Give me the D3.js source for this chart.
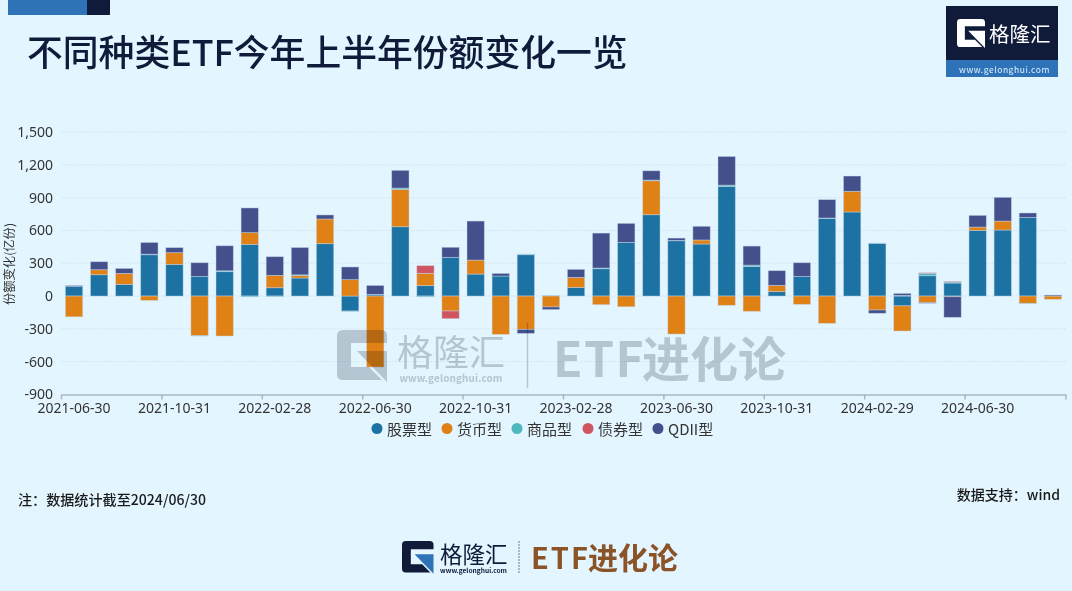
<!DOCTYPE html>
<html>
<head>
<meta charset="utf-8">
<script src="https://cdn.jsdelivr.net/npm/d3@7"></script>
<style>
html, body { margin: 0; padding: 0; background: #e3f5ff; }
svg { display: block; }
text { font-family: "Noto Sans CJK SC", "Noto Sans", sans-serif; }
</style>
</head>
<body>
<div id="chartContainer"></div>
<script>
const months = [
    "2021-06-30", "2021-07-31", "2021-08-31", "2021-09-30", "2021-10-31", "2021-11-30", "2021-12-31", "2022-01-31",
    "2022-02-28", "2022-03-31", "2022-04-30", "2022-05-31", "2022-06-30", "2022-07-31", "2022-08-31", "2022-09-30",
    "2022-10-31", "2022-11-30", "2022-12-31", "2023-01-31", "2023-02-28", "2023-03-31", "2023-04-30", "2023-05-31",
    "2023-06-30", "2023-07-31", "2023-08-31", "2023-09-30", "2023-10-31", "2023-11-30", "2023-12-31", "2024-01-31",
    "2024-02-29", "2024-03-31", "2024-04-30", "2024-05-31", "2024-06-30", "2024-07-31", "2024-08-31", "2024-09-30"
];
const stockValues = [88, 195, 107, 378, 290, 180, 223, 473, 76, 165, 479, -137, 12, 634, 95, 354, 201, 183, 378, 3,
    79, 250, 491, 744, 506, 476, 1003, 271, 40, 180, 711, 769, 482, -90, 186, 119, 601, 604, 720, 0];
const moneyValues = [-190, 46, 100, -40, 107, -363, -366, 107, 113, 24, 226, 150, -650, 342, 113, -137, 128, -351, -305, -100,
    92, -79, -98, 311, -348, 37, -85, -140, 58, -76, -250, 189, -128, -230, -61, -6, 30, 82, -67, -30];
const commodityValues = [0, 0, 0, 5, 0, -3, 8, -8, -6, 5, 0, -4, 3, 12, -8, 0, 0, 0, 6, 0,
    0, 6, 0, 6, 3, 0, 12, 12, 0, 0, 3, 0, 2, 6, 21, 9, 0, 0, -3, 0];
const bondValues = [0, 0, 0, 0, 0, 0, 0, 0, 0, 0, 0, 0, 0, 0, 70, -70, 0, 0, 0, 0,
    0, 0, 0, 0, 0, 0, 0, 0, 0, 0, 0, 0, 0, 0, 6, 6, 0, 0, 0, 0];
const qdiiValues = [8, 73, 46, 107, 46, 125, 229, 226, 171, 250, 37, 116, 82, 162, 0, 92, 357, 24, -37, -24,
    73, 320, 174, 85, 21, 125, 262, 174, 134, 125, 168, 140, -30, 18, -5, -189, 107, 217, 40, 9];

const seriesNames = ["股票型", "货币型", "商品型", "债券型", "QDII型"];
const seriesValues = [stockValues, moneyValues, commodityValues, bondValues, qdiiValues];
const seriesColors = ["#1c72a2", "#e08115", "#4fb7bd", "#cf5561", "#43508b"];
const yTicks = [-900, -600, -300, 0, 300, 600, 900, 1200, 1500];
const legendX = [377, 447, 517, 588, 658];

const marginLeft = 62;
const marginRight = 6;
const plotTop = 132.1;
const plotBottom = 394.4;
const chartWidth = 1072;
const chartHeight = 591;

var svg = d3.select("#chartContainer").append("svg").attr("width", chartWidth).attr("height", chartHeight);
svg.append("rect").attr("width", chartWidth).attr("height", chartHeight).attr("fill", "#e3f5ff");

// Logo mark: G outline plus the triangle, drawn in a 50x52 box
function drawLogo(parent, x, y, scale, color, arrowColor) {
    var g = parent.append("g").attr("transform", "translate(" + x + "," + y + ") scale(" + scale + ")");
    g.append("path").attr("fill", color)
        .attr("d", "M6,0 H44 Q50,0 50,6 V13 H14 V37 H32 L45,50 H6 Q0,50 0,44 V6 Q0,0 6,0 Z");
    g.append("path").attr("fill", arrowColor).attr("d", "M20,21 H50 V52 Z");
}

function addText(parent, x, y, content, size, color, weight, anchor) {
    return parent.append("text")
        .attr("x", x).attr("y", y)
        .attr("font-size", size)
        .attr("fill", color)
        .attr("font-weight", weight || 400)
        .attr("text-anchor", anchor || "start")
        .attr("dominant-baseline", "central")
        .text(content);
}

// Header
svg.append("rect").attr("x", 8).attr("y", 0).attr("width", 79).attr("height", 15).attr("fill", "#2e72b8");
svg.append("rect").attr("x", 87).attr("y", 0).attr("width", 23).attr("height", 15).attr("fill", "#101b3a");
addText(svg, 27, 50, "不同种类ETF今年上半年份额变化一览", 35.8, "#101b3a", 500);

svg.append("rect").attr("x", 946).attr("y", 6).attr("width", 112).attr("height", 54).attr("fill", "#101b3a");
svg.append("rect").attr("x", 946).attr("y", 60).attr("width", 112).attr("height", 17).attr("fill", "#2e72b8");
drawLogo(svg, 957, 19, 0.56, "#ffffff", "#ffffff");
addText(svg, 989, 33, "格隆汇", 20.5, "#ffffff", 400);
addText(svg, 1004.5, 68.5, "www.gelonghui.com", 8.5, "#e3f5ff", 400, "middle").attr("letter-spacing", 0.55);

// Scales
var xScale = d3.scaleBand().domain(months)
    .range([marginLeft - 0.5, chartWidth - marginRight - 0.5])
    .paddingInner(0.31).paddingOuter(0.155);
var yScale = d3.scaleLinear().domain([-900, 1500]).range([plotBottom, plotTop]);

// Grid
svg.append("g").selectAll("line").data(yTicks.filter(d => d != -900)).join("line")
    .attr("x1", marginLeft).attr("x2", chartWidth - marginRight)
    .attr("y1", d => yScale(d)).attr("y2", d => yScale(d))
    .attr("stroke", "#cfe2ee").attr("stroke-width", 1).attr("stroke-dasharray", "1.5,1.5");

// Stacked bars
var rows = months.map(function (m, i) {
    var row = { month: m };
    seriesNames.forEach(function (name, s) { row[name] = seriesValues[s][i]; });
    return row;
});
var stacked = d3.stack().keys(seriesNames).offset(d3.stackOffsetDiverging)(rows);

svg.append("g").selectAll("g").data(stacked).join("g")
    .attr("fill", (d, i) => seriesColors[i])
    .selectAll("rect")
    .data(d => d.filter(p => p[0] != p[1]))
    .join("rect")
    .attr("x", d => xScale(d.data.month))
    .attr("width", xScale.bandwidth())
    .attr("y", d => yScale(Math.max(d[0], d[1])))
    .attr("height", d => Math.abs(yScale(d[0]) - yScale(d[1])))
    .attr("stroke", "#c6d8ea")
    .attr("stroke-opacity", 0.55)
    .attr("stroke-width", 0.8);

// Left axis
var leftAxis = svg.append("g")
    .attr("transform", "translate(" + marginLeft + ",0)")
    .call(d3.axisLeft(yScale).tickValues(yTicks).tickSize(0).tickPadding(9)
        .tickFormat(d => d3.format(",")(d).replace("−", "-")));
leftAxis.select(".domain").remove();
leftAxis.selectAll("text").attr("font-size", 14).attr("fill", "#333333")
    .style("font-family", '"Noto Sans", sans-serif');

// Bottom axis, ticks sit on the band edges and labels stay on the band centres
var axisLabels = months.filter((d, i) => i % 4 == 0);
var bottomAxis = svg.append("g")
    .attr("transform", "translate(0," + plotBottom + ")")
    .call(d3.axisBottom(xScale).tickValues(axisLabels).tickSize(5).tickPadding(4).tickSizeOuter(0));
bottomAxis.select(".domain").attr("stroke", "#a9b6c2").attr("stroke-width", 1.5);
bottomAxis.selectAll(".tick line")
    .attr("stroke", "#a9b6c2").attr("stroke-width", 1.5)
    .attr("x1", -xScale.step() / 2).attr("x2", -xScale.step() / 2);
bottomAxis.append("line")
    .attr("x1", chartWidth - marginRight).attr("x2", chartWidth - marginRight)
    .attr("y1", 0).attr("y2", 5)
    .attr("stroke", "#a9b6c2").attr("stroke-width", 1.5);
bottomAxis.selectAll("text").attr("font-size", 14).attr("fill", "#333333")
    .style("font-family", '"Noto Sans", sans-serif');

// Y axis title
addText(svg, 0, 0, "份额变化(亿份)", 12.3, "#333333", 400, "middle")
    .attr("transform", "translate(9,264) rotate(-90)");

// Legend
seriesNames.forEach(function (name, i) {
    svg.append("circle").attr("cx", legendX[i]).attr("cy", 428.5).attr("r", 5.5).attr("fill", seriesColors[i]);
    addText(svg, legendX[i] + 10, 428.5, name, 15, "#333333");
});

// Watermark, multiplied over the bars
var mark = svg.append("g").style("mix-blend-mode", "multiply");
drawLogo(mark, 337, 330, 1, "#cdcdd2", "#cdcdd2");
addText(mark, 397, 350, "格隆汇", 36, "#cdcdd2", 400);
addText(mark, 451, 377.5, "www.gelonghui.com", 10, "#cdcdd2", 700, "middle").attr("letter-spacing", 0.1);
mark.append("line").attr("x1", 527.5).attr("x2", 527.5).attr("y1", 323).attr("y2", 388)
    .attr("stroke", "#cdcdd2").attr("stroke-width", 1.5);
addText(mark, 553, 356, "ETF", 48, "#cdcdd2", 700).attr("letter-spacing", 1.5);
addText(mark, 642, 356, "进化论", 48, "#cdcdd2", 700);

// Notes
addText(svg, 18, 499, "注：数据统计截至2024/06/30", 14.1, "#1a1a1a", 500);
addText(svg, 1060, 494, "数据支持：wind", 14, "#1a1a1a", 500, "end");

// Footer logo
drawLogo(svg, 402, 541, 0.63, "#101b3a", "#2e72b8");
addText(svg, 440, 553, "格隆汇", 22.5, "#101b3a", 400);
addText(svg, 473.5, 569.5, "www.gelonghui.com", 6.6, "#101b3a", 700, "middle");
svg.append("line").attr("x1", 519).attr("x2", 519).attr("y1", 541).attr("y2", 573)
    .attr("stroke", "#6d7aa0").attr("stroke-width", 1).attr("stroke-dasharray", "2,1");
addText(svg, 531, 556, "ETF", 29, "#8b5428", 700).attr("letter-spacing", 2);
addText(svg, 588, 556, "进化论", 30, "#8b5428", 700);
</script>
</body>
</html>
